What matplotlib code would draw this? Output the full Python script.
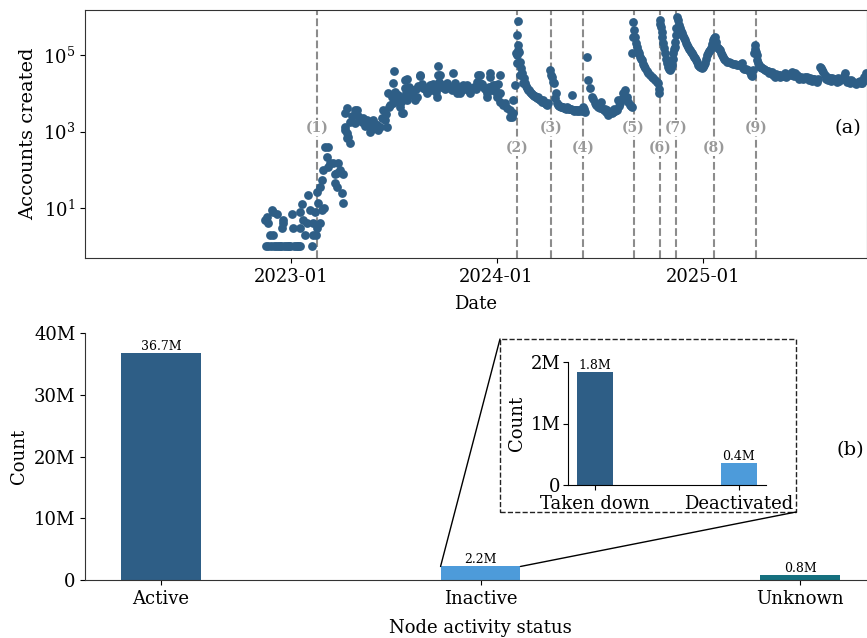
import numpy as np
import matplotlib
matplotlib.use("Agg")
import matplotlib.pyplot as plt
import matplotlib.dates as mdates
from matplotlib.patches import Rectangle, ConnectionPatch

plt.rcParams['font.family'] = ['DejaVu Serif']
plt.rcParams['mathtext.fontset'] = 'dejavuserif'

# ---------------- data ----------------
start_date = np.datetime64('2023-01-01')
day_offset = [
    -46, -44, -43, -41, -40, -37, -35, -34, -32, -31, -30, -27, -25, -23, -20, -18, -16, -14, -13, -12,
    -9, -5, -4, -2, 2, 4, 5, 9, 12, 13, 16, 16, 17, 20, 21, 25, 28, 30, 34, 37, 39, 39, 43, 44, 46, 46,
    48, 51, 51, 55, 55, 57, 59, 60, 64, 66, 66, 69, 75, 78, 78, 82, 82, 83, 87, 90, 92, 92,
    96, 96, 96, 99, 99, 99, 101, 105, 105, 108, 114, 114, 117, 119, 122, 126, 128, 131, 135, 137, 140,
    144, 145, 145, 149, 153, 154, 158, 161, 163, 167, 169, 170, 172, 174, 176, 179, 181, 181, 183, 184,
    188, 190, 193, 195, 197, 199, 200, 202, 202, 204, 206, 206, 209, 211, 211, 215, 216, 220, 222, 224,
    225, 229, 229, 232, 234, 238, 241, 241, 241, 245, 247, 248, 250, 252, 255, 257, 259, 261, 261, 263,
    264, 266, 270, 273, 277, 279, 282, 286, 287, 291, 294, 296, 300, 303, 305, 309, 312, 314, 318, 321,
    325, 328, 330, 332, 335, 335, 339, 341, 344, 348, 348, 351, 353, 353, 357, 358, 362, 362, 364, 365,
    367, 367, 371, 371, 371, 376, 380, 383, 389, 389, 392, 394, 394, 397,
    399, 401, 403, 401, 403, 403, 401, 404, 406, 406, 408, 410, 412, 413, 415, 417, 419, 420, 422, 424,
    426, 428, 429, 431, 433, 435, 436, 438, 440, 442, 443, 445, 447, 449, 451, 452, 454, 456,
    460, 461, 463, 465, 467, 468, 470, 472, 474, 475, 477, 479, 481, 483, 484, 486, 488, 490, 491, 493,
    495, 497, 498, 500, 502, 504, 506, 507, 509, 511, 513, 514, 516, 518, 520, 522,
    525, 527, 530, 534, 536, 539, 542, 545, 548, 551, 553, 555, 557, 559, 561, 562, 564, 566, 569, 571,
    573, 575, 578, 580, 582, 584, 587, 589, 591, 593, 596, 598, 601, 603, 605,
    605, 607, 607, 609, 610, 612, 614, 616, 616, 617, 619, 621, 623, 625, 626, 628, 632, 633, 637, 640,
    642, 646, 650, 651, 653, 653,
    655, 655, 657, 658, 658, 660, 662, 664, 665, 667, 669, 671, 672, 674, 676, 678, 678, 679, 681, 682,
    683, 684,
    685, 687, 688, 690, 692, 694, 695, 697, 699, 701, 703, 704, 706, 708, 710, 711, 713, 715, 717, 719,
    720, 722, 724, 726, 727, 729, 731, 733, 734, 736, 738, 740, 742, 743, 745, 747, 749, 750, 752, 754,
    756, 758, 759, 761, 763, 765, 766, 768, 770, 773, 777, 781, 784, 788, 791, 795, 798, 800, 802, 804,
    807, 811, 814, 816, 818, 820, 821, 823, 824, 825, 827, 827, 829, 830, 832, 834, 836, 839, 841, 844,
    846, 850, 853, 858, 864, 867, 873, 876, 882, 885, 889, 894, 899, 905, 912, 917, 921, 926, 930, 935,
    938, 942, 944, 947, 951, 956, 960, 965, 970, 976, 983, 988, 993, 1000, 1006, 1011, 1016, 1020,
    848, 855, 861, 867, 870, 879, 887, 892, 897, 902, 908, 915, 919, 924, 928, 933, 940, 950, 953, 958,
    962, 968, 973, 979, 981, 986, 991, 996, 1003, 1009, 1014, 1018,
]
accounts = [
    5, 1, 6, 4, 1, 2, 1, 9, 2, 8, 1, 1, 7, 1, 1, 1, 3, 5, 4, 1,
    1, 1, 1, 1, 7, 3, 1, 1, 1, 1, 3, 8, 1, 13, 5, 2, 4, 22, 9, 1, 4, 2, 8, 2, 3, 27,
    14, 4, 35, 9, 54, 98, 10, 400, 220, 400, 120, 150, 150, 80, 45, 85, 35, 150, 100, 25, 80, 14,
    1300, 3000, 1100, 4100, 680, 900, 710, 500, 1800, 2500, 1700, 3600, 3600, 2500, 2000, 1800, 2250, 1400, 2000, 1500, 950,
    1200, 2000, 1500, 1600, 1500, 1100, 1300, 2200, 3600, 2000, 2800, 1300, 10000, 4500, 5000, 8000, 19000, 5600, 38000, 11000,
    6700, 9000, 4300, 6000, 3000, 3000, 8000, 22000, 14000, 10000, 23000, 6700, 15000, 9000, 12000, 11000, 12000, 6700, 13000, 8000,
    16000, 28000, 30000, 18000, 14000, 13000, 14000, 12000, 10000, 15000, 16500, 12000, 16500, 18000, 14000, 11000, 8000, 52000, 30000, 20000,
    30000, 15000, 16500, 13000, 19000, 16000, 14000, 12000, 34000, 18500, 10500, 15000, 10500, 12000, 16500, 14000, 16500, 12000, 10500, 13700,
    15000, 13000, 20000, 30000, 18500, 30000, 17000, 15000, 13000, 8000, 10000, 15000, 34000, 27000, 12000, 16500, 16500, 14000, 11000, 8000,
    9000, 18000, 30000, 5900, 10000, 4900, 5600, 4100, 2400, 3600, 2400, 3000, 6700, 16500,
    113000, 330000, 780000, 62000, 180000, 135000, 100000, 120000, 30000, 66000, 45000, 34000, 19000, 25000, 19000, 16000, 14000, 12000, 12000, 11000,
    10000, 9500, 9000, 8500, 8500, 8000, 7500, 8000, 7000, 6700, 6500, 6000, 6700, 5800, 5500, 5200, 4900, 5600,
    40000, 30000, 27000, 20000, 18500, 7500, 10500, 5500, 4900, 4800, 4600, 4400, 4500, 4300, 4200, 4200, 4000, 4300, 4100, 3900,
    3900, 3800, 9000, 3700, 3500, 3600, 3600, 3400, 3600, 3500, 3600, 3700, 3400, 4300, 3800, 3300,
    90000, 22000, 14000, 8000, 7000, 5600, 5000, 4500, 4100, 6000, 4000, 3700, 3800, 3200, 3600, 2700, 3300, 3200, 3000, 3300,
    3800, 3400, 3600, 6700, 4800, 5600, 7000, 10500, 9000, 12000, 8000, 6000, 5000, 4800, 4300,
    110000, 730000, 300000, 450000, 300000, 210000, 160000, 130000, 113000, 110000, 90000, 80000, 74000, 60000, 52000, 46000, 38000, 34000, 30000, 27000,
    25000, 22000, 20000, 18500, 13000, 10000,
    820000, 650000, 540000, 300000, 400000, 210000, 150000, 113000, 80000, 62000, 49000, 44000, 41000, 45000, 55000, 80000, 113000, 140000, 160000, 220000,
    330000, 500000,
    1000000, 800000, 600000, 500000, 430000, 380000, 320000, 280000, 250000, 210000, 180000, 160000, 145000, 135000, 120000, 110000, 100000, 90000, 84000, 74000,
    65000, 55000, 52000, 50000, 48000, 46000, 50000, 55000, 62000, 80000, 100000, 115000, 125000, 135000, 150000, 200000, 250000, 280000, 300000, 220000,
    160000, 150000, 140000, 135000, 115000, 100000, 90000, 80000, 75000, 66000, 64000, 62000, 60000, 58000, 55000, 55000, 60000, 62000, 45000, 44000,
    43000, 41000, 35000, 30000, 28000, 40000, 110000, 180000, 140000, 120000, 100000, 74000, 62000, 55000, 49000, 49000, 46000, 43000, 41000, 39000,
    38000, 36000, 36000, 27000, 30000, 30000, 28000, 34000, 30000, 32000, 36000, 34000, 27000, 26000, 27000, 25000, 25000, 23000, 22000, 24000,
    49000, 40000, 36000, 30000, 27000, 25000, 25000, 24000, 25000, 23000, 34000, 22000, 22000, 19000, 20000, 18500, 26000, 34000,
    33000, 30000, 32000, 26000, 29000, 27000, 30000, 28000, 31000, 24000, 23000, 26000, 22000, 21000, 24000, 20000, 45000, 24000, 22000, 21000,
    23000, 20000, 21000, 24000, 28000, 20000, 19000, 21000, 18000, 21000, 19000, 22000,
]

event_dates = ['2023-02-17', '2024-02-06', '2024-04-06', '2024-06-03', '2024-08-31',
               '2024-10-17', '2024-11-15', '2025-01-20', '2025-04-05']
event_labels = ['(1)', '(2)', '(3)', '(4)', '(5)', '(6)', '(7)', '(8)', '(9)']

status_labels = ['Active', 'Inactive', 'Unknown']
status_counts = [36.7e6, 2.19e6, 0.8e6]
inactive_labels = ['Taken down', 'Deactivated']
inactive_counts = [1.83e6, 0.36e6]

c_dark = '#2E5E86'
c_light = '#4D9BDA'
c_teal = '#15707F'

# ---------------- figure ----------------
W, H = 867, 638
fig = plt.figure(figsize=(W / 100, H / 100), dpi=100)

def px_axes(l, t, r, b):
    return [l / W, 1 - b / H, (r - l) / W, (b - t) / H]

ax1 = fig.add_axes(px_axes(85, 10, 867, 258))
dates = start_date + np.array(day_offset).astype('timedelta64[D]')
ax1.scatter(dates, accounts, s=40, color=c_dark, zorder=3, linewidths=0)
ax1.set_yscale('log')
ax1.set_ylim(0.5, 1.5e6)
ax1.set_xlim(start_date - np.timedelta64(365, 'D'), start_date + np.timedelta64(1022, 'D'))
ax1.set_yticks([10, 1e3, 1e5])
ax1.yaxis.set_minor_locator(matplotlib.ticker.NullLocator())
ax1.set_xticks([np.datetime64('2023-01-01'), np.datetime64('2024-01-01'), np.datetime64('2025-01-01')])
ax1.xaxis.set_major_formatter(mdates.DateFormatter('%Y-%m'))
ax1.tick_params(labelsize=13)
ax1.set_xlabel('Date', fontsize=13, labelpad=7)
ax1.set_ylabel('Accounts created', fontsize=14)
for sp in ax1.spines.values():
    sp.set_color('#333333')

trans = matplotlib.transforms.blended_transform_factory(ax1.transData, ax1.transAxes)
for i, (d, lab) in enumerate(zip(event_dates, event_labels)):
    dd = np.datetime64(d)
    ax1.axvline(dd, color='#8c8c8c', linestyle='--', lw=1.5, zorder=1)
    yy = 0.524 if i % 2 == 0 else 0.443
    ax1.text(dd, yy, lab, transform=trans, ha='center', va='center', fontsize=10,
             fontweight='bold', color='#999999', zorder=2,
             bbox=dict(facecolor='white', edgecolor='none', pad=0.5))

fig.text(848 / W, 1 - 128 / H, '(a)', ha='center', va='center', fontsize=14)

# ---------------- bottom panel ----------------
ax2 = fig.add_axes(px_axes(85, 333, 876, 580))
x = np.arange(len(status_labels))
ax2.bar(x, status_counts, width=0.25, color=[c_dark, c_light, c_teal])
ax2.set_ylim(0, 40e6)
ax2.set_xlim(-0.2375, 2.2375)
ax2.set_yticks([0, 10e6, 20e6, 30e6, 40e6])
ax2.set_yticklabels(['0', '10M', '20M', '30M', '40M'])
ax2.set_xticks(x)
ax2.set_xticklabels(status_labels)
ax2.tick_params(labelsize=13)
ax2.set_xlabel('Node activity status', fontsize=13, labelpad=8)
ax2.set_ylabel('Count', fontsize=13)
ax2.spines['top'].set_visible(False)
ax2.spines['right'].set_visible(False)
for sp in ax2.spines.values():
    sp.set_color('#333333')
for xi, v in zip(x, status_counts):
    ax2.text(xi, v, f'{v / 1e6:.1f}M', ha='center', va='bottom', fontsize=9)

fig.text(850 / W, 1 - 450 / H, '(b)', ha='center', va='center', fontsize=14)

# inset
ax3 = fig.add_axes(px_axes(568, 362, 766, 485))
xi2 = np.arange(len(inactive_labels))
ax3.bar(xi2, inactive_counts, width=0.25, color=[c_dark, c_light])
ax3.set_ylim(0, 2e6)
ax3.set_yticks([0, 1e6, 2e6])
ax3.set_yticklabels(['0', '1M', '2M'])
ax3.set_xticks(xi2)
ax3.set_xticklabels(inactive_labels)
ax3.tick_params(axis='y', labelsize=13, pad=2)
ax3.tick_params(axis='x', labelsize=13, pad=4)
ax3.set_ylabel('Count', fontsize=13, labelpad=3)
ax3.spines['top'].set_visible(False)
ax3.spines['right'].set_visible(False)
for xx, v in zip(xi2, inactive_counts):
    ax3.text(xx, v, f'{v / 1e6:.1f}M', ha='center', va='bottom', fontsize=9)

rx0, rx1 = 500 / W, 796 / W
ry0, ry1 = 1 - 512 / H, 1 - 339 / H
rect = Rectangle((rx0, ry0), rx1 - rx0, ry1 - ry0, transform=fig.transFigure,
                 fill=False, edgecolor='#222222', linestyle='--', lw=1.0)
fig.add_artist(rect)

inact = status_counts[1]
con1 = ConnectionPatch(xyA=(1 - 0.125, inact), coordsA=ax2.transData,
                       xyB=(rx0, ry1), coordsB=fig.transFigure, color='black', lw=1.0)
con2 = ConnectionPatch(xyA=(1 + 0.125, inact), coordsA=ax2.transData,
                       xyB=(rx1, ry0), coordsB=fig.transFigure, color='black', lw=1.0)
fig.add_artist(con1)
fig.add_artist(con2)

fig.savefig('out.png', dpi=100)
